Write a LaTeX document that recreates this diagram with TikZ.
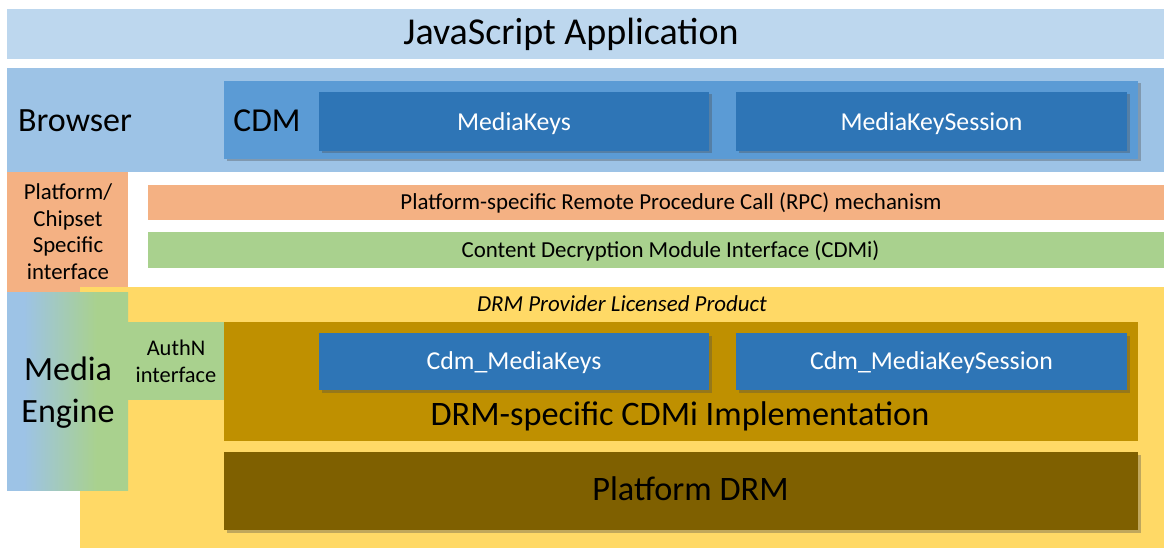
\documentclass[tikz,border=0pt]{standalone}
\usepackage{fontspec}
\setmainfont{Carlito}
\usetikzlibrary{shadows}

\definecolor{jsblue}{HTML}{BDD7EE}
\definecolor{brblue}{HTML}{9DC3E6}
\definecolor{cdmblue}{HTML}{5B9BD5}
\definecolor{keyblue}{HTML}{2E75B6}
\definecolor{rpcorange}{HTML}{F4B183}
\definecolor{ifgreen}{HTML}{A9D18E}
\definecolor{licyellow}{HTML}{FFD966}
\definecolor{implgold}{HTML}{BF9000}
\definecolor{drmbrown}{HTML}{7F6000}

\pgfdeclarehorizontalshading{enginefade}{100bp}{%
  color(0bp)=(brblue); color(32bp)=(brblue); color(62bp)=(ifgreen); color(100bp)=(ifgreen)}

\newcommand{\fs}[1]{\fontsize{#1}{#1}\selectfont}

\tikzset{
  block/.style={draw=none, inner sep=0pt, outer sep=0pt, anchor=north west, align=center, text depth=0pt},
  shadowed/.style={drop shadow={shadow xshift=2.5pt, shadow yshift=-2.5pt, opacity=0.35, fill=black!70}},
  keybox/.style={block, fill=keyblue, text=white, font=\fs{25.8}, shadowed},
  label/.style={inner sep=0pt, outer sep=0pt, anchor=base},
}

\begin{document}
\begin{tikzpicture}[x=1pt, y=-1pt]
\useasboundingbox[fill=white] (0,0) rectangle (1164,548);

% top application layer
\node[block, fill=jsblue, minimum width=1157pt, minimum height=50pt] (js) at (7,9) {};
\node[label, font=\fs{38}] (jslbl) at (571,45) {JavaScript Application};

% browser layer with the CDM inside
\node[block, fill=brblue, minimum width=1157pt, minimum height=104pt] (browser) at (7,68) {};
\node[label, font=\fs{34}] (browserlbl) at (75,132) {Browser};
\node[block, fill=cdmblue, minimum width=914pt, minimum height=78pt, shadowed] (cdm) at (224,81) {};
\node[label, font=\fs{33.5}] (cdmlbl) at (267,132) {CDM};
\node[keybox, minimum width=390pt, minimum height=59pt, text height=18pt] (mk) at (319,92) {MediaKeys};
\node[keybox, minimum width=391pt, minimum height=59pt, text height=18pt] (mks) at (736,92) {MediaKeySession};

% platform interface layers
\node[block, fill=rpcorange, minimum width=121pt, minimum height=120pt] (plat) at (7,172) {};
\node[label, font=\fs{22.8}] (plat1) at (68,200) {Platform/};
\node[label, font=\fs{22.8}] (plat2) at (68,226.3) {Chipset};
\node[label, font=\fs{22.8}] (plat3) at (68,252.6) {Specific};
\node[label, font=\fs{22.8}] (plat4) at (68,279) {interface};
\node[block, fill=rpcorange, minimum width=1016pt, minimum height=35pt] (rpc) at (148,185) {};
\node[label, font=\fs{22.9}] (rpclbl) at (671,209) {Platform-specific Remote Procedure Call (RPC) mechanism};
\node[block, fill=ifgreen, minimum width=1016pt, minimum height=36pt] (cdmi) at (148,232) {};
\node[label, font=\fs{22.9}] (cdmilbl) at (670.5,257) {Content Decryption Module Interface (CDMi)};

% licensed DRM product
\node[block, fill=licyellow, minimum width=1084pt, minimum height=261pt] (lic) at (80,287) {};
\node[label, font=\fs{22.9}\itshape] (liclbl) at (622,311) {DRM Provider Licensed Product};

% media engine with its authentication interface
\shade[shading=enginefade] (7,292) rectangle (128,490);
\node[block, minimum width=121pt, minimum height=198pt] (engine) at (7,292) {};
\node[label, font=\fs{34}] (enginelbl) at (68,380) {Media};
\node[label, font=\fs{34}] (enginelbl2) at (68,422) {Engine};
\node[block, fill=ifgreen, minimum width=96pt, minimum height=78pt] (authn) at (128,322) {};
\node[label, font=\fs{22.4}] (authnlbl) at (176,355) {AuthN};
\node[label, font=\fs{22.4}] (authnlbl2) at (176,382) {interface};

% DRM-specific implementation and platform DRM
\node[block, fill=implgold, minimum width=914pt, minimum height=119pt] (impl) at (224,322) {};
\node[keybox, minimum width=390pt, minimum height=57pt, text height=15pt] (cmk) at (319,333) {Cdm\_MediaKeys};
\node[keybox, minimum width=391pt, minimum height=57pt, text height=15pt] (cmks) at (736,333) {Cdm\_MediaKeySession};
\node[label, font=\fs{34.3}] (impllbl) at (680,425) {DRM-specific CDMi Implementation};
\node[block, fill=drmbrown, minimum width=914pt, minimum height=78pt, shadowed] (pdrm) at (224,452) {};
\node[label, font=\fs{34.3}] (pdrmlbl) at (690.5,500.5) {Platform DRM};
\end{tikzpicture}
\end{document}
